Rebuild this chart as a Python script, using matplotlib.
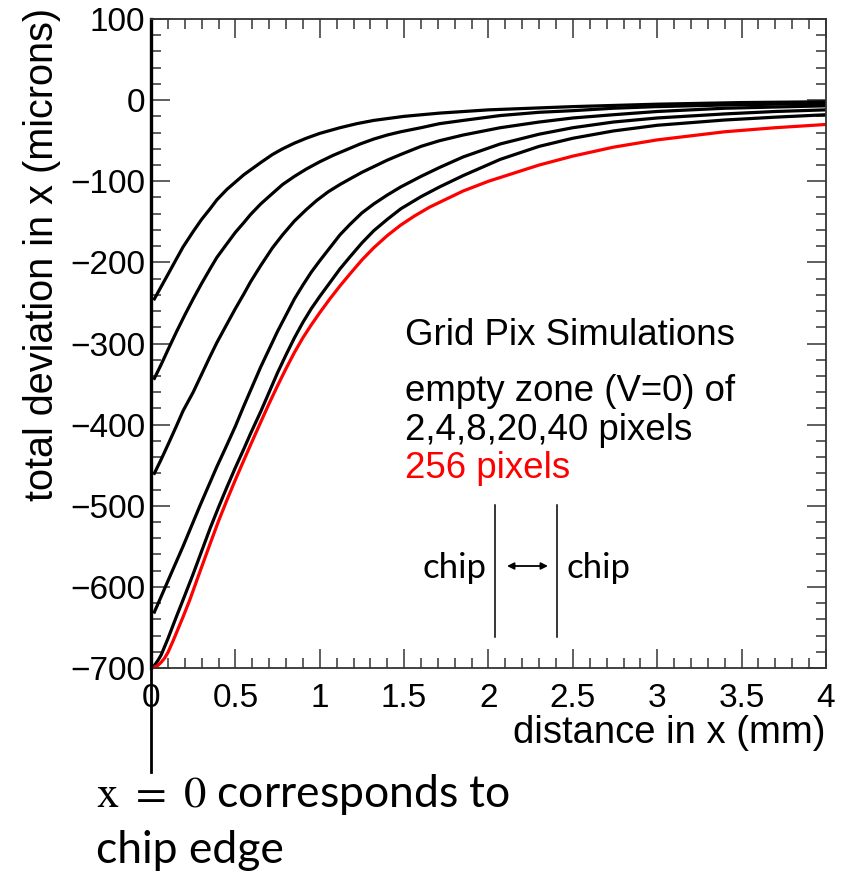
import matplotlib
matplotlib.use("Agg")
import matplotlib.pyplot as plt
from matplotlib.ticker import MultipleLocator, FuncFormatter
from matplotlib.lines import Line2D

plt.rcParams['mathtext.fontset'] = 'stix'

# ---- data ----
x_2px = [0.02, 0.06, 0.10, 0.15, 0.19, 0.25, 0.30, 0.35, 0.39, 0.45, 0.50, 0.55, 0.59, 0.65, 0.72, 0.78, 0.85,
         0.92, 1.00, 1.12, 1.22, 1.32, 1.50, 1.71, 2.00, 2.25, 2.50, 3.00, 3.50, 4.00]
y_2px = [-245, -230, -215, -196, -181, -162, -147, -134, -123, -110, -101, -92, -86, -77, -67, -60, -53,
         -47, -41, -34, -29, -25, -20, -16, -12, -10, -8, -5, -3, -2]

x_4px = [0.02, 0.06, 0.10, 0.15, 0.20, 0.25, 0.30, 0.35, 0.39, 0.45, 0.50, 0.55, 0.59, 0.65, 0.72, 0.78, 0.85,
         0.92, 1.00, 1.08, 1.16, 1.24, 1.32, 1.40, 1.48, 1.60, 1.71, 1.85, 2.07, 2.30, 2.50, 2.74, 3.00, 3.40, 4.00]
y_4px = [-343, -326, -308, -286, -265, -245, -226, -208, -194, -177, -163, -151, -141, -128, -115, -104, -94,
         -85, -76, -68, -61, -54, -48, -43, -39, -34, -29, -25, -19, -15, -13, -10, -8, -6, -4]

x_8px = [0.02, 0.06, 0.10, 0.15, 0.19, 0.25, 0.30, 0.35, 0.39, 0.45, 0.50, 0.55, 0.59, 0.65, 0.72, 0.78, 0.85,
         0.92, 0.98, 1.05, 1.12, 1.18, 1.25, 1.32, 1.40, 1.48, 1.60, 1.71, 1.85, 2.07, 2.30, 2.50, 2.74, 3.00,
         3.40, 4.00]
y_8px = [-460, -443, -425, -402, -383, -360, -338, -316, -299, -276, -257, -239, -224, -204, -182, -166, -149,
         -135, -124, -113, -104, -97, -89, -82, -74, -67, -57, -50, -43, -34, -27, -22, -18, -14,
         -10, -7]

x_20px = [0.02, 0.06, 0.11, 0.15, 0.19, 0.24, 0.29, 0.34, 0.39, 0.45, 0.50, 0.55, 0.60, 0.65, 0.70, 0.75, 0.80,
          0.85, 0.90, 0.95, 1.00, 1.06, 1.12, 1.18, 1.25, 1.32, 1.40, 1.48, 1.60, 1.71, 1.85, 2.07, 2.30, 2.50,
          2.74, 3.00, 3.40, 3.70, 4.00]
y_20px = [-631, -612, -588, -569, -550, -525, -500, -476, -452, -425, -402, -377, -353, -329, -307, -285, -265,
          -245, -228, -212, -198, -182, -166, -153, -139, -128, -117, -107, -94, -83, -70, -54, -42, -34,
          -27, -22, -17, -14, -12]

x_40px = [0.00, 0.02, 0.04, 0.06, 0.08, 0.10, 0.15, 0.19, 0.25, 0.30, 0.35, 0.40, 0.45, 0.50, 0.55, 0.59, 0.65,
          0.70, 0.75, 0.80, 0.85, 0.90, 0.95, 1.00, 1.06, 1.12, 1.18, 1.25, 1.32, 1.40, 1.48, 1.60, 1.71, 1.85,
          2.07, 2.30, 2.50, 2.74, 3.00, 3.40, 3.70, 4.00]
y_40px = [-700, -697, -691, -684, -674, -664, -637, -616, -584, -556, -528, -502, -477, -453, -430, -411, -384,
          -360, -336, -314, -293, -274, -257, -242, -225, -208, -193, -176, -161, -147, -134, -119, -107, -93,
          -73, -57, -47, -38, -31, -24.5, -21, -18]

x_256px = [0.00, 0.02, 0.04, 0.06, 0.08, 0.10, 0.13, 0.15, 0.19, 0.23, 0.28, 0.35, 0.40, 0.45, 0.50, 0.55, 0.59,
           0.65, 0.70, 0.75, 0.80, 0.85, 0.90, 0.95, 1.00, 1.06, 1.12, 1.18, 1.25, 1.32, 1.40, 1.48, 1.56, 1.65,
           1.71, 1.85, 2.00, 2.15, 2.30, 2.50, 2.74, 3.00, 3.40, 3.70, 4.00]
y_256px = [-700, -699, -697, -693, -688, -681, -667, -657, -637, -616, -587, -547, -519, -493, -468, -444, -425,
           -397, -374, -352, -331, -311, -293, -277, -262, -245, -229, -214, -197, -182, -167, -154, -143, -132,
           -126, -112, -100, -90, -80, -69, -58, -49, -39, -34, -30]

black_series = [(x_2px, y_2px), (x_4px, y_4px), (x_8px, y_8px), (x_20px, y_20px), (x_40px, y_40px)]

xlabel = "distance in x (mm)"
ylabel = "total deviation in x (microns)"

W, H = 851, 873
def fx(px):
    return px / W
def fy(py):
    return 1 - py / H

fig = plt.figure(figsize=(W / 100, H / 100), dpi=100)
ax = fig.add_axes([fx(151), fy(668), (826 - 151) / W, (668 - 19) / H])

for xs, ys in black_series:
    ax.plot(xs, ys, color='black', lw=2.3, solid_joinstyle='round')
ax.plot(x_256px, y_256px, color='#ff0000', lw=2.3, solid_joinstyle='round')

ax.set_xlim(0, 4)
ax.set_ylim(-700, 100)
ax.xaxis.set_major_locator(MultipleLocator(0.5))
ax.xaxis.set_minor_locator(MultipleLocator(0.1))
ax.yaxis.set_major_locator(MultipleLocator(100))
ax.yaxis.set_minor_locator(MultipleLocator(20))
ax.xaxis.set_major_formatter(FuncFormatter(lambda v, p: ('%g' % v)))

tick_font = 'Liberation Sans'
ax.tick_params(which='both', direction='in', top=True, right=True, color='#444444', width=1.2)
ax.tick_params(which='major', length=14)
ax.tick_params(which='minor', length=7)
ax.tick_params(axis='x', which='major', pad=11, labelsize=24)
ax.tick_params(axis='y', which='major', pad=4, labelsize=24)
for lab in ax.get_xticklabels() + ax.get_yticklabels():
    lab.set_fontfamily(tick_font)

for s in ['top', 'right', 'bottom']:
    ax.spines[s].set_linewidth(1.3)
    ax.spines[s].set_color('#333333')
ax.spines['left'].set_linewidth(2.4)
ax.spines['left'].set_color('black')

ax.set_xlabel(xlabel, loc='right', fontsize=27.5, family=tick_font, va='top')
ax.xaxis.set_label_coords(1.0, (668 - 715) / 649)
ax.set_ylabel(ylabel, loc='top', fontsize=28.5, family=tick_font, va='center')
ax.yaxis.set_label_coords((42 - 151) / 675, (668 - 8) / 649)

# legend-like text block
lt = dict(family=tick_font, fontsize=26.4, ha='left', va='baseline')
fig.text(fx(405), fy(345), "Grid Pix Simulations", color='black', **lt)
fig.text(fx(405), fy(401), "empty zone (V=0) of", color='black', **lt)
fig.text(fx(405), fy(440), "2,4,8,20,40 pixels", color='black', **lt)
fig.text(fx(405), fy(478), "256 pixels", color='#ff0000', **lt)

# chip gap sketch
ct = dict(family='Lato', fontsize=25, va='baseline')
fig.text(fx(487), fy(578), "chip", ha='right', **ct)
fig.text(fx(567), fy(578), "chip", ha='left', **ct)
for xp in (495, 557):
    fig.add_artist(Line2D([fx(xp), fx(xp)], [fy(505), fy(637)], color='black', lw=1.1,
                          transform=fig.transFigure))
ax.annotate('', xy=(fx(548), fy(566)), xytext=(fx(507), fy(566)),
            xycoords='figure fraction', textcoords='figure fraction',
            arrowprops=dict(arrowstyle='<|-|>', color='black', lw=1.3,
                            mutation_scale=10, shrinkA=0, shrinkB=0))

# x = 0 note below axis
fig.add_artist(Line2D([fx(151), fx(151)], [fy(668), fy(772)], color='black', lw=2.0,
                      transform=fig.transFigure))
bt = dict(family='Lato', fontsize=32, ha='left', va='baseline')
fig.text(fx(96), fy(807), r"$\mathrm{x}\ =\ 0$ corresponds to", **bt)
fig.text(fx(96), fy(863), "chip edge", **bt)

fig.savefig("out.png", dpi=100)
